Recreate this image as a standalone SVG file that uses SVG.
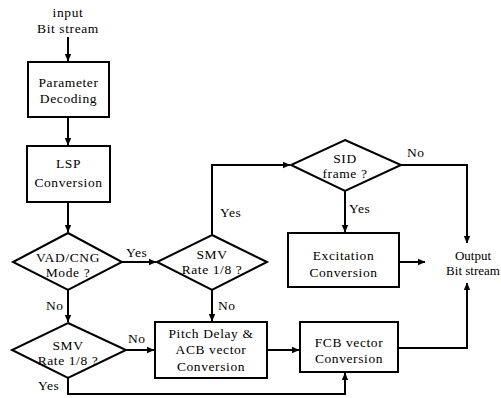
<svg xmlns="http://www.w3.org/2000/svg" id="d" width="501" height="398" viewBox="0 0 501 398">
<style>
#d .n{fill:#fff;stroke:#000;stroke-width:2}
#d .c{fill:none;stroke:#000;stroke-width:2}
#d text{font-family:'Liberation Serif','Times New Roman',serif;font-size:13.5px;letter-spacing:0.6px;fill:#000;text-anchor:middle}
#d text.l{text-anchor:start}
#d text.s{font-size:13px;letter-spacing:0}
</style>
<defs>
<marker id="a" markerWidth="8" markerHeight="8" refX="7" refY="4" orient="auto" markerUnits="userSpaceOnUse">
<path d="M0,0.8 L7.5,4 L0,7.2 Z" fill="#000"/>
</marker>
</defs>
<rect width="501" height="398" fill="#fff"/>
<g id="connectors">
<path class="c" d="M68,37 V61" marker-end="url(#a)"/>
<path class="c" d="M68,117 V145" marker-end="url(#a)"/>
<path class="c" d="M68,202 V232" marker-end="url(#a)"/>
<path class="c" d="M122,262 H156" marker-end="url(#a)"/>
<path class="c" d="M68,290 V322" marker-end="url(#a)"/>
<path class="c" d="M126,350 H154" marker-end="url(#a)"/>
<path class="c" d="M68,378 V394 H345 V373" marker-end="url(#a)"/>
<path class="c" d="M212,235 V165 H290" marker-end="url(#a)"/>
<path class="c" d="M212,290 V321" marker-end="url(#a)"/>
<path class="c" d="M267,350 H299" marker-end="url(#a)"/>
<path class="c" d="M398,348 H467 V283" marker-end="url(#a)"/>
<path class="c" d="M401,165 H467 V243" marker-end="url(#a)"/>
<path class="c" d="M345,191 V232" marker-end="url(#a)"/>
<path class="c" d="M399,262 H425" marker-end="url(#a)"/>
<text class="l" x="126" y="257">Yes</text>
<text class="l" x="46" y="310">No</text>
<text class="l" x="128" y="343">No</text>
<text class="l" x="38" y="390">Yes</text>
<text class="l" x="220" y="217">Yes</text>
<text class="l" x="218" y="310">No</text>
<text class="l" x="407" y="157">No</text>
<text class="l" x="349" y="213">Yes</text>
</g>
<g id="input">
<text x="68" y="17">input</text>
<text x="68" y="33">Bit stream</text>
</g>
<g id="param">
<rect class="n" x="28" y="62" width="81" height="55"/>
<text x="68.5" y="87">Parameter</text>
<text x="68.5" y="103">Decoding</text>
</g>
<g id="lsp">
<rect class="n" x="27" y="146" width="83" height="56"/>
<text x="68.5" y="168">LSP</text>
<text x="68.5" y="187">Conversion</text>
</g>
<g id="vad">
<polygon class="n" points="68,233 122,262 68,290 13,262"/>
<text x="68" y="262">VAD/CNG</text>
<text x="68" y="277">Mode ?</text>
</g>
<g id="smv1">
<polygon class="n" points="68,323 126,350 68,378 12,350"/>
<text x="68" y="350">SMV</text>
<text x="68" y="365">Rate 1/8 ?</text>
</g>
<g id="smv2">
<polygon class="n" points="212,235 267,262 212,290 157,262"/>
<text x="212" y="259">SMV</text>
<text x="212" y="274">Rate 1/8 ?</text>
</g>
<g id="pitch">
<rect class="n" x="155" y="322" width="112" height="56"/>
<text x="211" y="338">Pitch Delay &amp;</text>
<text x="211" y="354">ACB vector</text>
<text x="211" y="371">Conversion</text>
</g>
<g id="fcb">
<rect class="n" x="300" y="322" width="98" height="50"/>
<text x="349" y="347">FCB vector</text>
<text x="349" y="363">Conversion</text>
</g>
<g id="sid">
<polygon class="n" points="345,140 401,165 345,191 291,165"/>
<text x="345" y="163">SID</text>
<text x="345" y="178">frame ?</text>
</g>
<g id="excitation">
<rect class="n" x="288" y="233" width="111" height="54"/>
<text x="343.5" y="260">Excitation</text>
<text x="343.5" y="277">Conversion</text>
</g>
<g id="output">
<text class="s" x="473" y="260">Output</text>
<text class="s" x="473" y="275">Bit stream</text>
</g>
</svg>
